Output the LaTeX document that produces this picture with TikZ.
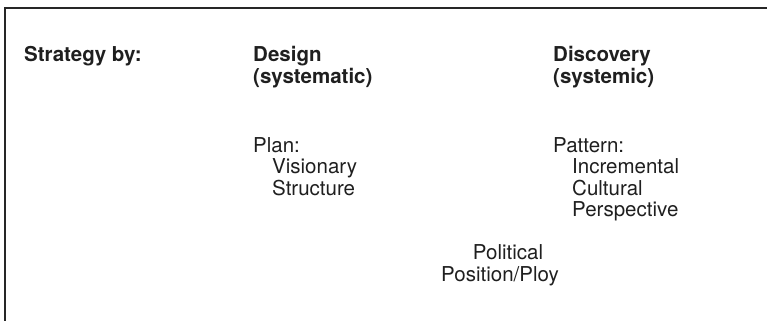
\documentclass[tikz,border=0pt]{standalone}
\usepackage{fontspec}
\setmainfont{TeX Gyre Heros}
\begin{document}
\begin{tikzpicture}[x=1pt,y=-1pt,
  txt/.style={anchor=base west,inner sep=0pt,font=\fontsize{20.5}{22}\selectfont,text=black!88},
  hd/.style={txt,font=\fontsize{20.5}{22}\selectfont\bfseries},
  frame/.style={draw=black!85,line width=1.3pt}]
\useasboundingbox (0,0) rectangle (767,321);
\coordinate (tr) at (767,8);
\coordinate (tl) at (5,8);
\coordinate (bl) at (5,321);
\draw[frame] (tr) -- (tl) -- (bl);
\node[hd] (sb) at (24,61) {Strategy by:};
\node[hd] (des) at (253,61) {Design};
\node[hd] (des2) at (253,83) {(systematic)};
\node[hd] (dis) at (553,61) {Discovery};
\node[hd] (dis2) at (553,83) {(systemic)};
\node[txt] (plan) at (253,152) {Plan:};
\node[txt] (pv) at (272,173.5) {Visionary};
\node[txt] (ps) at (272,195) {Structure};
\node[txt] (pat) at (553,152) {Pattern:};
\node[txt] (pi) at (572,173.5) {Incremental};
\node[txt] (pc) at (572,195) {Cultural};
\node[txt] (pp) at (572,216.5) {Perspective};
\node[txt,anchor=base] (pol) at (508,259.5) {Political};
\node[txt,anchor=base] (pos) at (500,281) {Position/Ploy};
\end{tikzpicture}
\end{document}
